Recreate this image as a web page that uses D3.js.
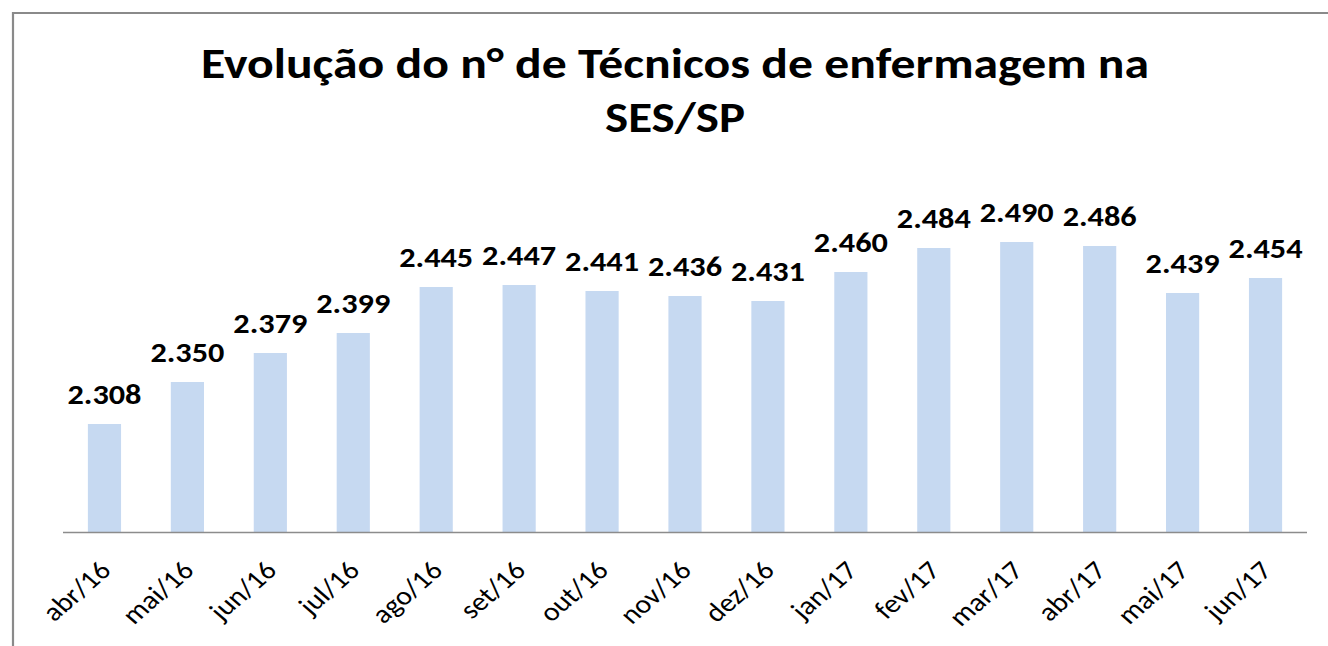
<!DOCTYPE html>
<html><head><meta charset="utf-8">
<script src="https://cdn.jsdelivr.net/npm/d3@7"></script>
<style>
html,body{margin:0;padding:0;background:#fff;overflow:hidden;}
svg{display:block;}
text{font-family:Calibri,Carlito,Lato,"Open Sans",sans-serif;}
</style></head><body>
<svg id="c" width="1328" height="646"></svg>
<script>
const titleLines = ["Evolução do n° de Técnicos de enfermagem na", "SES/SP"];
const categories = ["abr/16","mai/16","jun/16","jul/16","ago/16","set/16","out/16","nov/16","dez/16","jan/17","fev/17","mar/17","abr/17","mai/17","jun/17"];
const values = [2308,2350,2379,2399,2445,2447,2441,2436,2431,2460,2484,2490,2486,2439,2454];
const valueLabels = ["2.308","2.350","2.379","2.399","2.445","2.447","2.441","2.436","2.431","2.460","2.484","2.490","2.486","2.439","2.454"];

const svg = d3.select("#c");

// frame
svg.append("path").attr("d","M13,646 V13 H1328").attr("fill","none").attr("stroke","#8a8a8a").attr("stroke-width",2.2);

// title
const title = svg.append("g");
title.append("text").attr("x",675).attr("y",78).attr("text-anchor","middle")
  .attr("font-size",42).attr("font-weight","bold").attr("fill","#000").text(titleLines[0])
  .attr("textLength",948).attr("lengthAdjust","spacingAndGlyphs");
title.append("text").attr("x",675).attr("y",132).attr("text-anchor","middle")
  .attr("font-size",42).attr("font-weight","bold").attr("fill","#000").text(titleLines[1])
  .attr("textLength",140).attr("lengthAdjust","spacingAndGlyphs");

const x = d3.scaleBand().domain(categories).range([63,1307]).paddingInner(0.6).paddingOuter(0.3);
const y = d3.scaleLinear().domain([2200,2500]).range([532,232]);

svg.append("g").selectAll("rect").data(values).join("rect")
  .attr("x",(d,i)=>x(categories[i]))
  .attr("width",x.bandwidth())
  .attr("y",d=>y(d))
  .attr("height",d=>y(2200)-y(d))
  .attr("fill","#c6d9f1");

// axis
const axis = d3.axisBottom(x).tickSize(0).tickPadding(0);
const gx = svg.append("g").attr("transform","translate(0,532)").call(axis);
gx.attr("font-size",null).attr("font-family",null);
gx.select(".domain").attr("stroke","#8c8c8c").attr("stroke-width",1.5).attr("d","M63,0.5H1307");
gx.selectAll(".tick text")
  .style("font-size","26px").attr("fill","#000")
  .attr("text-anchor","end")
  .attr("dy",0)
  .attr("transform","translate(8,40) scale(1.15,1) rotate(-45)");

// value labels
svg.append("g").selectAll("text").data(values).join("text")
  .attr("x",(d,i)=>x(categories[i])+x.bandwidth()/2)
  .attr("y",d=>y(d)-20)
  .attr("text-anchor","middle")
  .attr("font-size",28).attr("font-weight","bold").attr("fill","#000")
  .attr("textLength",74).attr("lengthAdjust","spacingAndGlyphs")
  .text((d,i)=>valueLabels[i]);
</script>
</body></html>
